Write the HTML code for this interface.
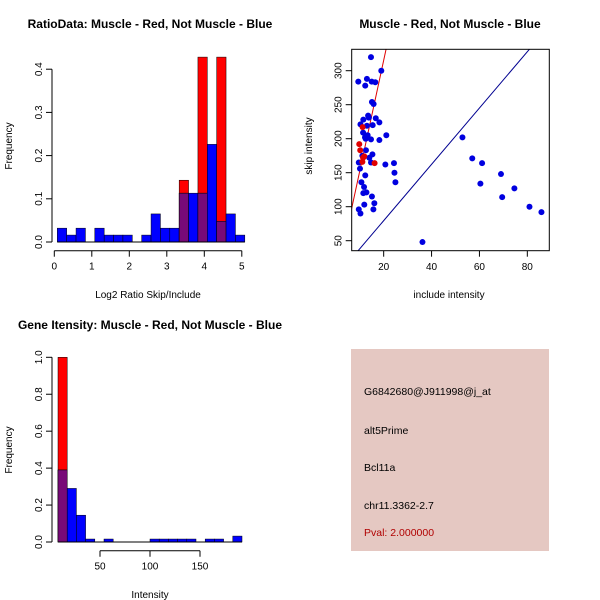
<!DOCTYPE html>
<html><head><meta charset="utf-8"><style>
body{margin:0;background:#fff}
svg{display:block;font-family:"Liberation Sans",sans-serif}
</style></head><body>
<svg id="s" width="600" height="600" viewBox="0 0 600 600">
<rect width="600" height="600" fill="#fff"/>
<text x="150" y="28" text-anchor="middle" font-size="12" font-weight="bold">RatioData: Muscle - Red, Not Muscle - Blue</text>
<text x="450" y="28" text-anchor="middle" font-size="12" font-weight="bold">Muscle - Red, Not Muscle - Blue</text>
<text x="150" y="329" text-anchor="middle" font-size="12" font-weight="bold">Gene Itensity: Muscle - Red, Not Muscle - Blue</text>
<text x="148" y="298" text-anchor="middle" font-size="10">Log2 Ratio Skip/Include</text>
<text transform="translate(12,146) rotate(-90)" text-anchor="middle" font-size="10">Frequency</text>
<text x="449" y="298" text-anchor="middle" font-size="10">include intensity</text>
<text transform="translate(312,146) rotate(-90)" text-anchor="middle" font-size="10">skip intensity</text>
<text x="150" y="598" text-anchor="middle" font-size="10">Intensity</text>
<text transform="translate(12,450) rotate(-90)" text-anchor="middle" font-size="10">Frequency</text>
<g id="p1"></g>
<g id="p2"></g>
<g id="p3"></g>
<g>
<rect x="351" y="349" width="198" height="202" fill="#e5c8c2"/>
<text x="364" y="395" font-size="10.5">G6842680@J911998@j_at</text>
<text x="364" y="434" font-size="10.5">alt5Prime</text>
<text x="364" y="471" font-size="10.5">Bcl11a</text>
<text x="364" y="509" font-size="10.5">chr11.3362-2.7</text>
<text x="364" y="536" font-size="10.5" fill="#b00000">Pval: 2.000000</text>
</g>
</svg>
<script>
const ratioStart = 0.08, ratioWidth = 0.25;
const ratioBlue = [0.032,0.016,0.032,0,0.032,0.016,0.016,0.016,0,0.016,0.065,0.032,0.032,0.113,0.113,0.113,0.226,0.048,0.065,0.016];
const ratioRed  = [0,0,0,0,0,0,0,0,0,0,0,0,0,0.143,0,0.428,0,0.428,0,0];
const ratioXTicks = [0,1,2,3,4,5];
const ratioYTicks = [0,0.1,0.2,0.3,0.4];

const intStart = 8, intWidth = 9.2;
const intBlue = [0.39,0.29,0.145,0.016,0,0.016,0,0,0,0,0.016,0.016,0.016,0.016,0.016,0,0.016,0.016,0,0.032];
const intRed  = [1,0,0,0,0,0,0,0,0,0,0,0,0,0,0,0,0,0,0,0];
const intXTicks = [50,100,150];
const intYTicks = [0,0.2,0.4,0.6,0.8,1.0];

const blueX = [14.7,9.4,13.0,15.0,16.5,12.3,19.0,15.1,15.8,13.5,13.8,16.7,18.2,10.3,11.5,13.0,15.4,11.4,12.2,12.5,13.3,14.7,18.2,21.1,12.6,14.0,15.3,14.7,9.6,10.1,20.7,24.3,24.5,24.9,10.7,12.3,11.8,12.8,11.5,15.1,11.9,16.1,15.7,9.6,10.3,36.2,52.9,57.0,61.1,60.4,69.0,69.5,74.6,80.9,85.9,11.1];
const blueY = [320,284,288,284,283,278,300,254,251,234,231,230,224,221,228,219,220,209,202,200,205,199,198,205,183,172,177,165,165,156,162,164,150,136,136,146,129,121,120,115,103,105,96,96,90,48,202,171,164,134,148,114,127,100,92,175];
const redX = [9.8,10.2,11.4,11.9,11.1,11.2,16.2];
const redY = [192,183,172,174,166,217,164];
const scXTicks = [20,40,60,80];
const scYTicks = [50,100,150,200,250,300];
const redLine = [16.3,-10.7];
const blueLine = [4.14,-3.3];

const NS = "http://www.w3.org/2000/svg";
function mk(par, tag, attrs){const e=document.createElementNS(NS,tag);for(const k in attrs)e.setAttribute(k,attrs[k]);par.appendChild(e);return e;}

function hist(g, start, w, blue, red, xs, ys, xT, yT, xTickVals, yTickVals, xAxisY, yAxisX, xAxisRange, yFmt){
  for(let i=0;i<blue.length;i++){
    const x0=xs(start+i*w), x1=xs(start+(i+1)*w);
    const r=red[i], b=blue[i];
    if(r>0){const e=mk(g,'rect',{x:x0,y:ys(r),width:x1-x0,height:ys(0)-ys(r),fill:'#ff0000',stroke:'#000','stroke-width':0.5});
      
      }
    if(b>0){const e=mk(g,'rect',{x:x0,y:ys(b),width:x1-x0,height:ys(0)-ys(b),fill:'#0000ff',stroke:'#000','stroke-width':0.5});
      
      }
    const m=Math.min(r,b);
    if(m>0){const e=mk(g,'rect',{x:x0,y:ys(m),width:x1-x0,height:ys(0)-ys(m),fill:'#780a78',stroke:'#000','stroke-width':0.5});
      
      }
  }
  mk(g,'line',{x1:xs(start),x2:xs(start+blue.length*w),y1:ys(0),y2:ys(0),stroke:'#000'});
  const xr=xAxisRange;
  mk(g,'line',{x1:xs(xr[0]),x2:xs(xr[1]),y1:xAxisY,y2:xAxisY,stroke:'#000'});
  xTickVals.forEach(v=>{mk(g,'line',{x1:xs(v),x2:xs(v),y1:xAxisY,y2:xAxisY+6,stroke:'#000'});
    const t=mk(g,'text',{x:xs(v),y:xAxisY+19,'text-anchor':'middle','font-size':10});t.textContent=v;
    
    });
  mk(g,'line',{x1:yAxisX,x2:yAxisX,y1:ys(yTickVals[0]),y2:ys(yTickVals[yTickVals.length-1]),stroke:'#000'});
  yTickVals.forEach(v=>{mk(g,'line',{x1:yAxisX,x2:yAxisX-6,y1:ys(v),y2:ys(v),stroke:'#000'});
    const t=mk(g,'text',{transform:`translate(${yAxisX-10},${ys(v)}) rotate(-90)`,'text-anchor':'middle','font-size':10});t.textContent=yFmt(v);
    
    });
}

const g1=document.getElementById('p1');
hist(g1,ratioStart,ratioWidth,ratioBlue,ratioRed,v=>54.3+v*37.5,v=>242-v*432,null,null,ratioXTicks,ratioYTicks,250.7,52,[0,5],v=>v.toFixed(1));

const g3=document.getElementById('p3');
hist(g3,intStart,intWidth,intBlue,intRed,v=>50+v,v=>542-v*184.7,null,null,intXTicks,intYTicks,550.7,52,[50,150],v=>v.toFixed(1));

// scatter
const g2=document.getElementById('p2');
const sx=v=>335.8+v*2.394, sy=v=>240.7-(v-50)*0.68;
const clip=mk(g2,'clipPath',{id:'cp'});mk(clip,'rect',{x:351.7,y:49.3,width:197.6,height:201.4});
const lg=mk(g2,'g',{'clip-path':'url(#cp)'});
[[redLine,'#e00000','red-fit-line'],[blueLine,'#000090','diagonal-line']].forEach(([l,c,n])=>{
  const e=mk(lg,'line',{x1:sx(0),y1:sy(l[1]),x2:sx(100),y2:sy(l[0]*100+l[1]),stroke:c,'stroke-width':1});
  
  });
blueX.forEach((x,i)=>{const e=mk(g2,'circle',{cx:sx(x),cy:sy(blueY[i]),r:3,fill:'#0000e0'});
  
  });
redX.forEach((x,i)=>{const e=mk(g2,'circle',{cx:sx(x),cy:sy(redY[i]),r:3,fill:'#e00000'});
  
  });
mk(g2,'rect',{x:351.7,y:49.3,width:197.6,height:201.4,fill:'none',stroke:'#000'});
scXTicks.forEach(v=>{mk(g2,'line',{x1:sx(v),x2:sx(v),y1:250.7,y2:256.7,stroke:'#000'});
  const t=mk(g2,'text',{x:sx(v),y:270,'text-anchor':'middle','font-size':10});t.textContent=v;
  
  });
scYTicks.forEach(v=>{mk(g2,'line',{x1:351.7,x2:345.7,y1:sy(v),y2:sy(v),stroke:'#000'});
  const t=mk(g2,'text',{transform:`translate(341.7,${sy(v)}) rotate(-90)`,'text-anchor':'middle','font-size':10});t.textContent=v;
  
  });
</script>
</body></html>
